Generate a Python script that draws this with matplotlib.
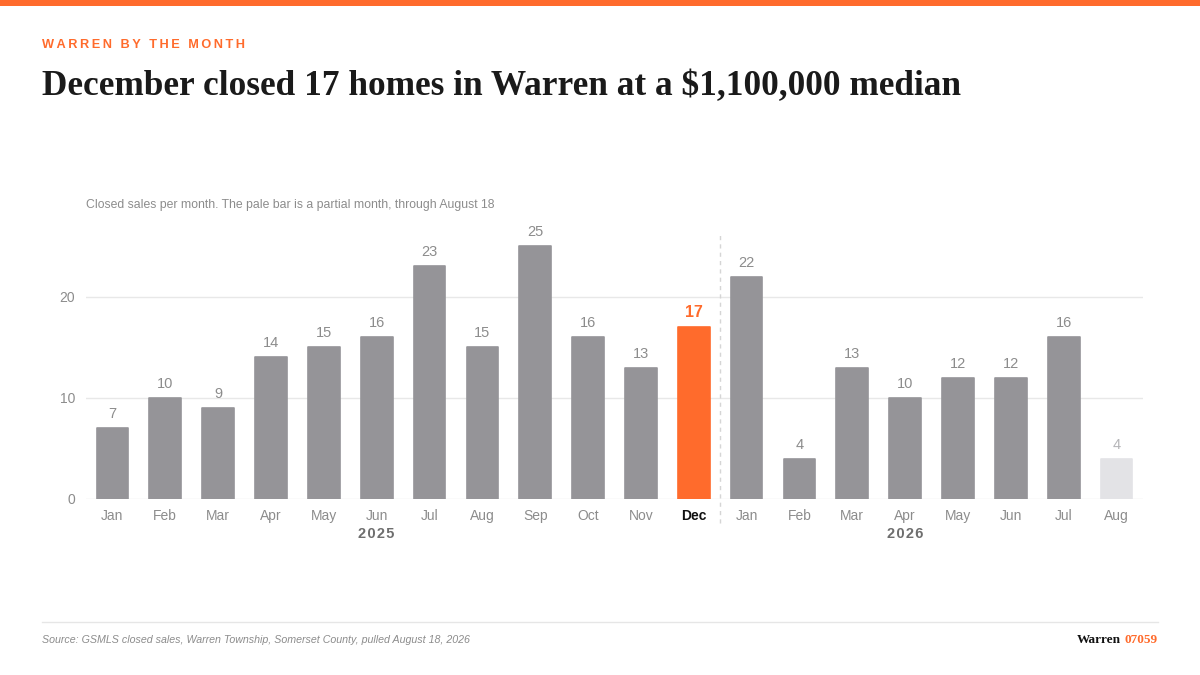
import matplotlib.pyplot as plt
from matplotlib.lines import Line2D
from matplotlib.patches import Rectangle

# Data
months = ["Jan", "Feb", "Mar", "Apr", "May", "Jun", "Jul", "Aug", "Sep", "Oct", "Nov", "Dec",
          "Jan", "Feb", "Mar", "Apr", "May", "Jun", "Jul", "Aug"]
sales = [7, 10, 9, 14, 15, 16, 23, 15, 25, 16, 13, 17,
         22, 4, 13, 10, 12, 12, 16, 4]
years = ["2025", "2026"]
year_counts = [12, 8]
highlight = 11      # Dec 2025
partial = 19        # Aug 2026, partial month
yticks = [0, 10, 20]

# Colours
ORANGE = "#FF6B2C"
GRAY_BAR = "#959498"
PALE_BAR = "#E3E3E6"
TXT_GRAY = "#8C8C8C"
GRID = "#E8E8E8"

plt.rcParams["font.family"] = ["Liberation Sans", "DejaVu Sans"]

fig = plt.figure(figsize=(12, 6.75), dpi=100)

# Top accent stripe
fig.add_artist(Rectangle((0, 1 - 6 / 675), 1, 6 / 675, transform=fig.transFigure,
                         color=ORANGE, lw=0))

# Headers
kicker = "\u2009".join("WARREN BY THE MONTH")
fig.text(42 / 1200, 1 - 45 / 675, kicker, color=ORANGE, fontsize=9.2, fontweight="bold",
         va="center", ha="left")
fig.text(42 / 1200, 1 - 95 / 675, "December closed 17 homes in Warren at a $1,100,000 median",
         family=["Liberation Serif", "DejaVu Serif"], fontweight="bold", fontsize=25.4,
         color="#1a1a1a", va="baseline", ha="left")
fig.text(86 / 1200, 1 - 205 / 675,
         "Closed sales per month. The pale bar is a partial month, through August 18",
         color=TXT_GRAY, fontsize=8.8, va="center", ha="left")

# Chart
ax = fig.add_axes([86 / 1200, 1 - 499 / 675, (1143 - 86) / 1200, (499 - 232) / 675])
x = list(range(len(sales)))
colors = []
for i in x:
    if i == highlight:
        colors.append(ORANGE)
    elif i == partial:
        colors.append(PALE_BAR)
    else:
        colors.append(GRAY_BAR)

bars = ax.bar(x, sales, width=0.6, color=colors, edgecolor=colors, linewidth=1.2,
              joinstyle="round", zorder=3)

for i, v in enumerate(sales):
    if i == highlight:
        ax.annotate(str(v), (i, v), xytext=(0, 5), textcoords="offset points",
                    ha="center", va="bottom", color=ORANGE, fontsize=11.5, fontweight="bold")
    elif i == partial:
        ax.annotate(str(v), (i, v), xytext=(0, 5), textcoords="offset points",
                    ha="center", va="bottom", color="#B5B5B8", fontsize=10.5)
    else:
        ax.annotate(str(v), (i, v), xytext=(0, 5), textcoords="offset points",
                    ha="center", va="bottom", color=TXT_GRAY, fontsize=10.5)

ax.set_xlim(-0.5, len(sales) - 0.5)
ax.set_ylim(0, 26.4)
ax.set_yticks(yticks)
ax.set_yticklabels([str(t) for t in yticks], color=TXT_GRAY, fontsize=10)
ax.set_xticks(x)
ax.set_xticklabels(months, color=TXT_GRAY, fontsize=10)
ax.get_xticklabels()[highlight].set_color("#111111")
ax.get_xticklabels()[highlight].set_fontweight("bold")
ax.tick_params(axis="x", length=0, pad=7)
ax.tick_params(axis="y", length=0, pad=8)
for s in ax.spines.values():
    s.set_visible(False)
ax.grid(axis="y", color=GRID, lw=1, zorder=0)

# Year separator
ax.add_line(Line2D([year_counts[0] - 0.5] * 2, [-0.09, 1.0], transform=ax.get_xaxis_transform(),
                   color="#D5D5D5", lw=1, ls=(0, (3, 3)), clip_on=False))

# Year labels
start = 0
for yr, n in zip(years, year_counts):
    pos = start + (n - 1) // 2
    ax.text(pos, -0.132, "\u200a".join(yr), transform=ax.get_xaxis_transform(),
            ha="center", va="center", color="#6E6E6E", fontsize=10.5, fontweight="bold")
    start += n

# Footer
fig.add_artist(Line2D([42 / 1200, 1158 / 1200], [1 - 622 / 675] * 2, transform=fig.transFigure,
                      color="#E6E6E6", lw=1))
fig.text(42 / 1200, 1 - 640 / 675,
         "Source: GSMLS closed sales, Warren Township, Somerset County, pulled August 18, 2026",
         color=TXT_GRAY, fontsize=7.65, style="italic", va="center", ha="left")
t_num = fig.text(1158 / 1200, 1 - 640 / 675, "07059", color=ORANGE, fontsize=9.5,
                 fontweight="bold", family=["Liberation Serif"], va="center", ha="right")
fig.canvas.draw()
bb = t_num.get_window_extent()
fig.text((bb.x0 - 4) / 1200, 1 - 640 / 675, "Warren", color="#111111", fontsize=9.5,
         fontweight="bold", family=["Liberation Serif"], va="center", ha="right")

fig.savefig("out.png", dpi=100)
